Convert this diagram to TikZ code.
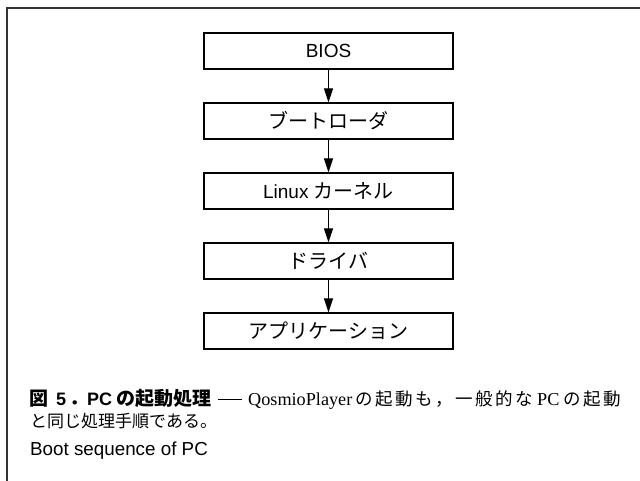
\documentclass[tikz,border=0pt]{standalone}
\usepackage{fontspec}
\setmainfont{Liberation Sans}
\newfontfamily\cjk{Noto Sans CJK JP}
\newfontfamily\latinserif{Liberation Serif}
\usetikzlibrary{arrows.meta}
\tikzset{
  stepbox/.style={draw=black, line width=1.2pt, minimum width=249pt, minimum height=36pt, inner sep=0pt, font=\fontsize{19}{21}\selectfont},
  flow/.style={line width=1.1pt, -{Triangle[length=14pt,width=9pt]}},
  frameline/.style={draw=black!80, line width=1.5pt},
  captext/.style={anchor=base west, inner sep=0pt, font=\fontsize{17}{20}\selectfont},
  capwide/.style={captext, font=\fontsize{17.5}{20}\selectfont},
  capbold/.style={captext, font=\fontsize{19}{21}\selectfont\bfseries},
  capbolds/.style={captext, font=\fontsize{18}{21}\selectfont\bfseries},
  capserif/.style={captext, font=\fontsize{18.2}{21}\selectfont\latinserif}
}
\newcommand{\kana}[1]{{\cjk\fontsize{20}{22}\selectfont #1}}
\newcommand{\gp}{\hspace{2.5pt}}
\begin{document}
\begin{tikzpicture}[x=1pt,y=-1pt]
\useasboundingbox (0,0) rectangle (640,481);
\draw[frameline] (7,481) -- (7,8) -- (640,8);
\node[stepbox] (bios) at (328.5,51) {BIOS};
\node[stepbox] (boot) at (328.5,121) {\kana{ブートローダ}};
\node[stepbox] (kern) at (328.5,191) {Linux \kana{カーネル}};
\node[stepbox] (drv) at (328.5,261) {\kana{ドライバ}};
\node[stepbox] (app) at (328.5,331) {\kana{アプリケーション}};
\draw[flow] (bios) -- (boot);
\draw[flow] (boot) -- (kern);
\draw[flow] (kern) -- (drv);
\draw[flow] (drv) -- (app);
% caption line 1
\node[capbold] (c1a) at (29,405) {\cjk 図};
\node[capbolds] (c1b) at (56,405) {5};
\node[capbold] (c1c) at (69,405) {\cjk ．};
\node[capbolds] (c1d) at (87,405) {PC};
\node[capbold] (c1e) at (116,405) {\cjk の起動処理};
\node[captext] (c1f) at (218,405) {\raisebox{5.5pt}{\rule{24pt}{0.9pt}}};
\node[capserif] (c1g) at (248,405) {QosmioPlayer};
\node[capwide] (c1h) at (355,405) {\cjk の\gp 起\gp 動\gp も\gp ，\gp 一\gp 般\gp 的\gp な};
\node[capserif] (c1i) at (537,405) {PC};
\node[capwide] (c1j) at (563,405) {\cjk の\gp 起\gp 動};
% caption line 2 and 3
\node[captext] (cap2) at (30,427) {\cjk と同じ処理手順である。};
\node[captext, font=\fontsize{18.8}{21}\selectfont] (cap3) at (30,455) {Boot sequence of PC};
\end{tikzpicture}
\end{document}
